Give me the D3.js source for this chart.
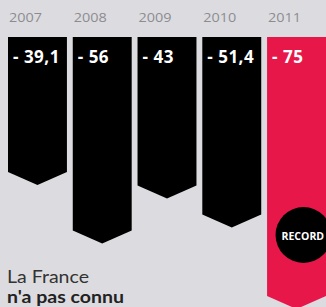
<!DOCTYPE html>
<html><head><meta charset="utf-8">
<script src="https://cdn.jsdelivr.net/npm/d3@7"></script>
<style>html,body{margin:0;padding:0;background:#dcdce0;overflow:hidden}</style>
</head><body>
<svg id="c" width="326" height="307"></svg>
<script>
const years = ["2007","2008","2009","2010","2011"];
const values = [39.1, 56, 43, 51.4, 75];
const labels = ["- 39,1","- 56","- 43","- 51,4","- 75"];
const colors = ["#000","#000","#000","#000","#e8174a"];
const titleLines = ["La France","n'a pas connu"];
const badge = "RECORD";

const svg = d3.select("#c");
svg.append("rect").attr("width",326).attr("height",307).attr("fill","#dcdce0");

const x = d3.scaleBand().domain(years).range([8,326]).paddingInner(0.09).paddingOuter(0);
const y = d3.scaleLinear().domain([0,75]).range([37,296]);
const tip = 13;

const g = svg.append("g");
years.forEach((yr,i)=>{
  const x0 = x(yr), w = x.bandwidth(), x1 = x0+w, yb = y(values[i]);
  const path = `M${x0},${y(0)}L${x1},${y(0)}L${x1},${yb}L${x0+w/2},${yb+tip}L${x0},${yb}Z`;
  g.append("path").attr("d",path).attr("fill",colors[i]);
  g.append("text").attr("x",x0+1).attr("y",22).text(yr)
    .attr("font-family","Open Sans").attr("font-size",12.5).attr("fill","#8c8c90")
    .attr("textLength",33).attr("lengthAdjust","spacingAndGlyphs");
  g.append("text").attr("x",x0+5).attr("y",63).text(labels[i])
    .attr("font-family","Open Sans").attr("font-weight","bold").attr("font-size",17)
    .attr("letter-spacing",0.5).attr("fill","#fff");
});

const last = years[years.length-1];
const cx = x(last)+x.bandwidth()/2+7;
svg.append("circle").attr("cx",cx).attr("cy",235).attr("r",28).attr("fill","#000");
svg.append("text").attr("x",cx-22).attr("y",239.5)
  .text(badge).attr("font-family","Open Sans").attr("font-weight","bold").attr("font-size",10.5)
  .attr("fill","#fff");

svg.append("text").attr("x",7).attr("y",283).text(titleLines[0])
  .attr("font-family","Lato").attr("font-size",16.5).attr("fill","#333")
  .attr("textLength",82).attr("lengthAdjust","spacingAndGlyphs");
svg.append("text").attr("x",7).attr("y",303).text(titleLines[1])
  .attr("font-family","Lato").attr("font-weight","bold").attr("font-size",16.5).attr("fill","#222")
  .attr("textLength",117).attr("lengthAdjust","spacingAndGlyphs");
</script>
</body></html>
